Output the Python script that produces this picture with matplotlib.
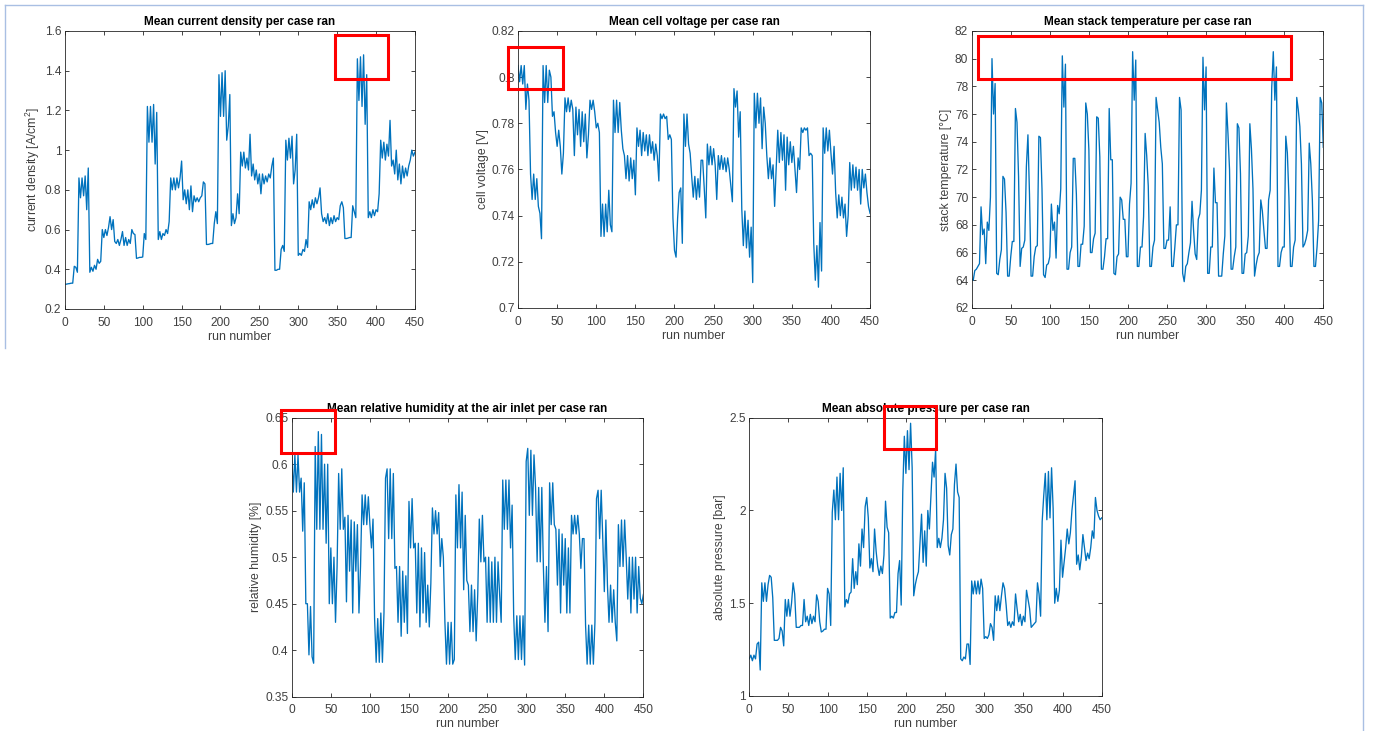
import numpy as np
import matplotlib
matplotlib.use("Agg")
import matplotlib.pyplot as plt
from matplotlib.patches import Rectangle
from matplotlib.ticker import FuncFormatter

# run numbers (every second case)
runs = np.arange(0, 451, 2)

current_density = [
    0.325, 0.325, 0.327, 0.328, 0.33, 0.33, 0.415, 0.41, 0.385, 0.86,
    0.76, 0.86, 0.77, 0.87, 0.70, 0.91, 0.385, 0.41, 0.39, 0.42,
    0.40, 0.45, 0.43, 0.44, 0.60, 0.56, 0.60, 0.57, 0.61, 0.665,
    0.60, 0.65, 0.54, 0.53, 0.55, 0.52, 0.55, 0.59, 0.52, 0.56,
    0.52, 0.55, 0.53, 0.60, 0.58, 0.575, 0.455, 0.457, 0.46, 0.46,
    0.462, 0.58, 0.55, 1.22, 1.04, 1.22, 1.04, 1.23, 0.93, 1.19,
    0.55, 0.59, 0.55, 0.58, 0.57, 0.60, 0.58, 0.64, 0.86, 0.80,
    0.86, 0.80, 0.86, 0.81, 0.86, 0.945, 0.75, 0.80, 0.73, 0.80,
    0.70, 0.82, 0.69, 0.77, 0.74, 0.76, 0.74, 0.76, 0.77, 0.84,
    0.83, 0.525, 0.525, 0.527, 0.53, 0.53, 0.63, 0.69, 0.63, 1.38,
    1.17, 1.39, 1.17, 1.40, 1.05, 1.12, 1.28, 0.62, 0.68, 0.63,
    0.66, 0.78, 0.68, 0.99, 0.92, 0.99, 0.91, 0.96, 0.90, 1.08,
    0.87, 0.93, 0.85, 0.90, 0.83, 0.88, 0.78, 0.88, 0.83, 0.87,
    0.84, 0.88, 0.86, 0.92, 0.96, 0.395, 0.395, 0.40, 0.40, 0.50,
    0.52, 0.49, 1.05, 0.95, 1.06, 0.96, 1.07, 0.83, 0.90, 1.08,
    0.47, 0.48, 0.47, 0.50, 0.49, 0.55, 0.51, 0.74, 0.70, 0.75,
    0.71, 0.76, 0.73, 0.76, 0.81, 0.68, 0.64, 0.66, 0.63, 0.68,
    0.62, 0.66, 0.63, 0.67, 0.64, 0.66, 0.65, 0.72, 0.74, 0.71,
    0.555, 0.555, 0.557, 0.56, 0.56, 0.72, 0.69, 0.66, 1.46, 1.25,
    1.47, 1.22, 1.48, 1.13, 1.38, 0.66, 0.69, 0.66, 0.70, 0.67,
    0.70, 0.69, 0.78, 1.05, 0.96, 1.04, 0.95, 1.03, 0.97, 1.15,
    0.92, 0.95, 0.88, 1.0, 0.85, 0.93, 0.83, 0.92, 0.86, 0.91,
    0.87, 0.92, 0.95, 1.0, 0.97, 0.99,
]

cell_voltage = [
    0.805, 0.798, 0.805, 0.797, 0.805, 0.786, 0.797, 0.79, 0.758, 0.747,
    0.758, 0.747, 0.756, 0.744, 0.741, 0.730, 0.805, 0.789, 0.805, 0.789,
    0.803, 0.80, 0.783, 0.785, 0.776, 0.770, 0.777, 0.770, 0.758, 0.767,
    0.791, 0.785, 0.791, 0.785, 0.790, 0.786, 0.766, 0.787, 0.775, 0.786,
    0.770, 0.785, 0.772, 0.784, 0.765, 0.775, 0.790, 0.786, 0.790, 0.785,
    0.778, 0.780, 0.776, 0.731, 0.745, 0.731, 0.745, 0.733, 0.751, 0.736,
    0.733, 0.790, 0.776, 0.790, 0.776, 0.789, 0.777, 0.769, 0.766, 0.756,
    0.766, 0.755, 0.765, 0.756, 0.764, 0.749, 0.778, 0.770, 0.777, 0.766,
    0.776, 0.768, 0.775, 0.766, 0.775, 0.767, 0.772, 0.764, 0.771, 0.766,
    0.755, 0.784, 0.782, 0.784, 0.782, 0.783, 0.773, 0.775, 0.773, 0.739,
    0.725, 0.722, 0.739, 0.750, 0.752, 0.728, 0.784, 0.770, 0.784, 0.771,
    0.767, 0.757, 0.748, 0.757, 0.747, 0.756, 0.748, 0.764, 0.764, 0.752,
    0.739, 0.771, 0.762, 0.770, 0.762, 0.769, 0.762, 0.747, 0.766, 0.760,
    0.766, 0.760, 0.765, 0.759, 0.765, 0.760, 0.753, 0.746, 0.795, 0.787,
    0.794, 0.774, 0.785, 0.743, 0.727, 0.742, 0.726, 0.738, 0.722, 0.735,
    0.711, 0.793, 0.778, 0.793, 0.780, 0.791, 0.769, 0.787, 0.780, 0.766,
    0.756, 0.765, 0.756, 0.762, 0.744, 0.760, 0.777, 0.763, 0.776, 0.764,
    0.775, 0.751, 0.774, 0.762, 0.772, 0.763, 0.770, 0.760, 0.750, 0.765,
    0.760, 0.778, 0.776, 0.778, 0.777, 0.778, 0.766, 0.767, 0.766, 0.728,
    0.712, 0.727, 0.709, 0.737, 0.716, 0.778, 0.767, 0.778, 0.768, 0.777,
    0.767, 0.758, 0.770, 0.750, 0.739, 0.749, 0.740, 0.748, 0.739, 0.745,
    0.731, 0.740, 0.763, 0.751, 0.762, 0.752, 0.761, 0.751, 0.760, 0.745,
    0.760, 0.752, 0.758, 0.750, 0.744, 0.741,
]

stack_temperature = [
    64.1, 64.0, 64.7, 64.8, 65.0, 65.2, 69.3, 67.3, 67.7, 65.2,
    68.2, 67.6, 70.0, 80.0, 76.0, 78.2, 64.5, 64.4, 65.5, 66.2,
    71.5, 71.3, 68.9, 64.3, 64.3, 65.7, 66.8, 66.8, 76.4, 75.4,
    71.5, 65.0, 66.3, 66.4, 66.9, 72.2, 74.5, 70.2, 64.3, 64.3,
    65.7, 66.4, 66.5, 74.4, 74.3, 70.6, 64.4, 64.2, 65.1, 65.2,
    65.7, 69.5, 67.6, 68.2, 65.6, 69.4, 68.8, 70.6, 80.2, 76.5,
    79.6, 64.8, 64.8, 66.0, 66.4, 72.8, 72.8, 70.2, 65.0, 65.0,
    66.6, 66.6, 67.9, 76.8, 76.0, 73.4, 66.0, 66.0, 67.0, 67.4,
    75.8, 75.7, 72.9, 64.8, 64.8, 65.7, 67.0, 67.0, 76.4, 72.7,
    72.7, 64.5, 64.4, 65.7, 65.9, 70.0, 69.8, 68.4, 68.4, 65.7,
    65.7, 69.5, 71.0, 80.5, 77.0, 79.9, 65.0, 65.0, 66.4, 66.4,
    68.6, 74.6, 73.0, 70.8, 65.0, 65.0, 66.4, 66.9, 77.2, 76.3,
    75.4, 73.6, 72.4, 66.3, 66.3, 66.9, 66.9, 69.3, 65.0, 65.0,
    66.4, 68.0, 68.0, 77.2, 76.3, 64.5, 63.9, 65.0, 65.2, 66.0,
    66.7, 69.7, 67.6, 65.9, 65.5, 68.4, 68.8, 70.5, 80.1, 76.3,
    79.4, 64.5, 64.5, 66.4, 66.4, 72.1, 69.6, 69.6, 64.3, 64.3,
    64.3, 65.9, 67.2, 76.8, 74.6, 72.0, 64.8, 64.8, 65.7, 66.4,
    75.3, 75.0, 71.7, 64.5, 64.5, 65.9, 66.0, 67.2, 75.3, 73.5,
    70.6, 64.3, 65.1, 65.7, 66.0, 69.8, 69.0, 67.6, 66.3, 66.3,
    69.8, 70.5, 77.9, 80.5, 77.0, 79.4, 65.0, 65.0, 66.0, 66.4,
    66.4, 74.4, 73.2, 70.0, 65.0, 65.0, 66.4, 66.9, 77.2, 76.3,
    75.1, 72.4, 66.4, 66.6, 67.0, 67.6, 73.9, 72.4, 69.8, 65.0,
    65.0, 66.4, 68.3, 77.2, 76.8, 73.6,
]

relative_humidity = [
    0.61, 0.57, 0.61, 0.57, 0.61, 0.57, 0.585, 0.528, 0.58, 0.45,
    0.45, 0.395, 0.447, 0.393, 0.386, 0.619, 0.53, 0.635, 0.53, 0.632,
    0.53, 0.60, 0.515, 0.60, 0.45, 0.51, 0.45, 0.50, 0.43, 0.49,
    0.59, 0.53, 0.595, 0.53, 0.543, 0.452, 0.545, 0.485, 0.54, 0.44,
    0.538, 0.485, 0.535, 0.44, 0.49, 0.567, 0.535, 0.567, 0.535, 0.565,
    0.535, 0.51, 0.541, 0.434, 0.387, 0.434, 0.387, 0.44, 0.387, 0.44,
    0.585, 0.595, 0.52, 0.595, 0.52, 0.59, 0.488, 0.49, 0.43, 0.49,
    0.415, 0.485, 0.43, 0.48, 0.418, 0.56, 0.51, 0.563, 0.51, 0.515,
    0.44, 0.515, 0.425, 0.51, 0.44, 0.505, 0.43, 0.47, 0.425, 0.472,
    0.553, 0.525, 0.55, 0.525, 0.548, 0.49, 0.52, 0.50, 0.43, 0.385,
    0.43, 0.385, 0.43, 0.385, 0.39, 0.567, 0.51, 0.578, 0.51, 0.57,
    0.465, 0.545, 0.475, 0.47, 0.42, 0.47, 0.42, 0.465, 0.41, 0.46,
    0.541, 0.495, 0.545, 0.495, 0.50, 0.43, 0.50, 0.43, 0.495, 0.43,
    0.50, 0.43, 0.495, 0.46, 0.43, 0.583, 0.53, 0.583, 0.53, 0.583,
    0.51, 0.556, 0.437, 0.39, 0.437, 0.39, 0.437, 0.39, 0.437, 0.384,
    0.603, 0.617, 0.545, 0.615, 0.545, 0.61, 0.575, 0.495, 0.575, 0.495,
    0.575, 0.49, 0.43, 0.49, 0.42, 0.58, 0.535, 0.58, 0.535, 0.53,
    0.47, 0.53, 0.44, 0.525, 0.47, 0.52, 0.44, 0.51, 0.44, 0.545,
    0.525, 0.545, 0.525, 0.545, 0.525, 0.488, 0.52, 0.52, 0.427, 0.385,
    0.427, 0.385, 0.427, 0.385, 0.43, 0.563, 0.572, 0.52, 0.572, 0.52,
    0.463, 0.54, 0.47, 0.43, 0.47, 0.43, 0.465, 0.43, 0.41, 0.535,
    0.49, 0.54, 0.49, 0.54, 0.50, 0.455, 0.50, 0.44, 0.50, 0.455,
    0.50, 0.44, 0.49, 0.456, 0.45, 0.46,
]

absolute_pressure = [
    1.20, 1.22, 1.19, 1.22, 1.20, 1.28, 1.29, 1.14, 1.61, 1.51,
    1.61, 1.51, 1.60, 1.65, 1.64, 1.53, 1.30, 1.30, 1.30, 1.31,
    1.37, 1.35, 1.27, 1.52, 1.43, 1.52, 1.43, 1.50, 1.61, 1.55,
    1.37, 1.37, 1.37, 1.38, 1.38, 1.52, 1.40, 1.43, 1.38, 1.44,
    1.39, 1.43, 1.40, 1.545, 1.51, 1.40, 1.345, 1.35, 1.36, 1.36,
    1.58, 1.55, 1.38, 1.99, 2.11, 1.95, 2.18, 1.95, 2.20, 2.0,
    2.23, 1.48, 1.52, 1.50, 1.55, 1.56, 1.74, 1.58, 1.67, 1.60,
    1.82, 1.70, 1.90, 1.80, 2.02, 2.07, 1.96, 1.69, 1.74, 1.67,
    1.90, 1.78, 1.70, 1.65, 1.70, 1.66, 1.76, 2.05, 1.91, 1.88,
    1.42, 1.43, 1.42, 1.45, 1.45, 1.66, 1.73, 1.49, 2.10, 2.40,
    2.20, 2.43, 2.22, 2.47, 2.23, 1.54, 1.60, 1.64, 1.67, 1.83,
    1.98, 1.72, 1.89, 1.70, 2.0, 1.90, 2.08, 2.26, 2.18, 2.33,
    1.80, 1.85, 1.80, 1.85, 1.95, 2.20, 2.12, 1.81, 1.76, 1.87,
    1.90, 2.14, 2.25, 2.10, 2.07, 1.20, 1.19, 1.21, 1.20, 1.28,
    1.28, 1.17, 1.62, 1.55, 1.62, 1.55, 1.62, 1.55, 1.63, 1.58,
    1.31, 1.32, 1.31, 1.33, 1.39, 1.37, 1.30, 1.54, 1.46, 1.54,
    1.46, 1.54, 1.61, 1.58, 1.49, 1.38, 1.40, 1.37, 1.40, 1.38,
    1.55, 1.47, 1.40, 1.44, 1.38, 1.43, 1.40, 1.57, 1.52, 1.47,
    1.37, 1.38, 1.39, 1.40, 1.61, 1.55, 1.43, 1.94, 2.08, 2.20,
    1.95, 2.21, 1.96, 2.23, 2.01, 1.50, 1.58, 1.51, 1.57, 1.84,
    1.64, 1.72, 1.80, 1.90, 1.82, 1.88, 2.0, 2.08, 2.16, 1.71,
    1.76, 1.68, 1.75, 1.87, 1.80, 1.73, 1.77, 1.74, 1.80, 1.89,
    1.85, 2.07, 2.0, 1.97, 1.95, 1.96,
]

titles = [
    "Mean current density per case ran",
    "Mean cell voltage per case ran",
    "Mean stack temperature per case ran",
    "Mean relative humidity at the air inlet per case ran",
    "Mean absolute pressure per case ran",
]
ylabels = [
    "current density [A/cm$^2$]",
    "cell voltage [V]",
    "stack temperature [°C]",
    "relative humidity [%]",
    "absolute pressure [bar]",
]
ylims = [(0.2, 1.6), (0.7, 0.82), (62, 82), (0.35, 0.65), (1.0, 2.5)]
yticks = [
    [0.2, 0.4, 0.6, 0.8, 1.0, 1.2, 1.4, 1.6],
    [0.70, 0.72, 0.74, 0.76, 0.78, 0.80, 0.82],
    [62, 64, 66, 68, 70, 72, 74, 76, 78, 80, 82],
    [0.35, 0.40, 0.45, 0.50, 0.55, 0.60, 0.65],
    [1.0, 1.5, 2.0, 2.5],
]
xticks = list(range(0, 451, 50))

# highlighted regions (run_start, run_end, y_low, y_high)
highlights = [
    (347, 416, 1.356, 1.578),
    (-13, 57, 0.7947, 0.8131),
    (8, 409, 78.52, 81.62),
    (-14, 55, 0.6116, 0.6582),
    (172, 239, 2.329, 2.565),
]

series = [current_density, cell_voltage, stack_temperature,
          relative_humidity, absolute_pressure]

# axes rectangles in figure fractions
positions = [
    [0.0473, 0.5773, 0.2549, 0.3803],
    [0.3773, 0.5787, 0.2564, 0.3790],
    [0.7077, 0.5787, 0.2561, 0.3790],
    [0.2125, 0.0469, 0.2561, 0.3817],
    [0.5457, 0.0479, 0.2567, 0.3807],
]

plt.rcParams['font.family'] = ['Liberation Sans', 'DejaVu Sans']
plt.rcParams['mathtext.fontset'] = 'custom'
plt.rcParams['mathtext.rm'] = 'Liberation Sans'

line_color = '#0072BD'
axis_color = '#262626'
text_color = '#404040'

fig = plt.figure(figsize=(13.73, 7.31), dpi=100)
fig.patch.set_facecolor('white')

fmt = FuncFormatter(lambda v, p: f"{v:g}")

for i in range(5):
    ax = fig.add_axes(positions[i])
    ax.plot(runs, series[i], color=line_color, linewidth=0.95)
    ax.set_xlim(0, 450)
    ax.set_ylim(*ylims[i])
    ax.set_xticks(xticks)
    ax.set_yticks(yticks[i])
    ax.yaxis.set_major_formatter(fmt)
    ax.tick_params(direction='in', top=True, right=True, length=2.9,
                   width=0.6, labelsize=8.6, color=axis_color,
                   labelcolor=text_color)
    ax.tick_params(axis='x', pad=5.5)
    ax.tick_params(axis='y', pad=2.5)
    for sp in ax.spines.values():
        sp.set_linewidth(0.6)
        sp.set_color(axis_color)
    ax.set_title(titles[i], fontsize=8.5, fontweight='bold', color='black', pad=4)
    ax.set_xlabel("run number", fontsize=8.8, color=text_color, labelpad=1.5)
    ax.set_ylabel(ylabels[i], fontsize=8.8, color=text_color, labelpad=2)
    x0, x1, y0, y1 = highlights[i]
    ax.add_patch(Rectangle((x0, y0), x1 - x0, y1 - y0, fill=False,
                           edgecolor='#ff0000', linewidth=2.2,
                           clip_on=False, zorder=5))

# page frame
frame_color = '#a9bfe3'
W, H = 1373, 731
fig.add_artist(plt.Line2D([5 / W, 1363 / W], [1 - 5 / H, 1 - 5 / H],
                          color=frame_color, linewidth=1.0))
fig.add_artist(plt.Line2D([5 / W, 5 / W], [1 - 348 / H, 1 - 5 / H],
                          color=frame_color, linewidth=1.0))
fig.add_artist(plt.Line2D([1363 / W, 1363 / W], [0, 1 - 5 / H],
                          color=frame_color, linewidth=1.0))

fig.savefig("out.png", dpi=100, facecolor='white')
